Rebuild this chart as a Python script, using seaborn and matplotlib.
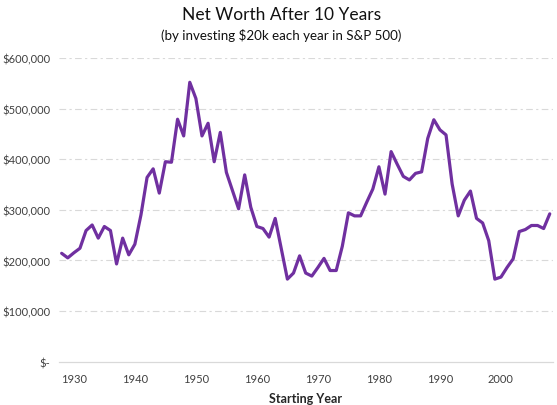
import matplotlib
matplotlib.use("Agg")
import matplotlib.pyplot as plt
import seaborn as sns
import pandas as pd
from matplotlib.ticker import FuncFormatter, FixedLocator

# ---- data ----
years = list(range(1928, 2009))
net_worth = [
    214, 205, 215, 224, 259, 270, 244, 267, 259, 193,   # 1928-1937
    244, 211, 232, 290, 364, 381, 333, 395, 394, 479,   # 1938-1947
    446, 552, 520, 446, 471, 395, 453, 374, 338, 302,   # 1948-1957
    369, 305, 267, 263, 246, 283, 223, 163, 175, 209,   # 1958-1967
    175, 169, 186, 204, 180, 180, 228, 294, 288, 288,   # 1968-1977
    315, 341, 385, 331, 415, 390, 366, 359, 372, 375,   # 1978-1987
    441, 478, 458, 448, 351, 288, 319, 337, 283, 274,   # 1988-1997
    239, 163, 167, 186, 203, 257, 261, 269, 269, 263,   # 1998-2007
    292,                                                # 2008
]
net_worth = [v * 1000 for v in net_worth]
x_ticks = [1930, 1940, 1950, 1960, 1970, 1980, 1990, 2000]
y_ticks = [0, 100000, 200000, 300000, 400000, 500000, 600000]

title = "Net Worth After 10 Years"
subtitle = "(by investing $20k each year in S&P 500)"
x_label = "Starting Year"

df = pd.DataFrame({"year": years, "net_worth": net_worth})

sns.set_style("white")
plt.rcParams["font.family"] = ["Lato", "DejaVu Sans"]

W, H = 557, 406
fig = plt.figure(figsize=(W / 100, H / 100), dpi=100)
ax = fig.add_axes([58.6 / W, 1 - 362.6 / H, (552.8 - 58.6) / W, (362.6 - 59) / H])

sns.lineplot(data=df, x="year", y="net_worth", ax=ax, color="#7030A0",
             linewidth=2.3, zorder=3)

ax.set_xlim(1927.5, 2008.5)
ax.set_ylim(0, 600000)
ax.xaxis.set_major_locator(FixedLocator(x_ticks))
ax.yaxis.set_major_locator(FixedLocator(y_ticks))
ax.yaxis.set_major_formatter(FuncFormatter(lambda v, p: "$-" if v == 0 else f"${v:,.0f}"))

for y in y_ticks[1:]:
    ax.axhline(y, color="#d9d9d9", linewidth=0.8, linestyle=(0, (6, 3, 2, 3)), zorder=1)

for s in ["top", "right", "left"]:
    ax.spines[s].set_visible(False)
ax.spines["bottom"].set_color("#d9d9d9")
ax.spines["bottom"].set_linewidth(0.9)

ax.tick_params(axis="both", length=0, labelsize=8, labelcolor="#404040")
ax.tick_params(axis="y", pad=6)
ax.tick_params(axis="x", pad=8)

ax.set_xlabel(x_label, fontsize=9, fontweight="bold", color="#262626", labelpad=6)
ax.set_ylabel("")

fig.text(0.505, 1 - 15 / H, title, ha="center", va="center", fontsize=12.5, color="#111111")
fig.text(0.505, 1 - 36 / H, subtitle, ha="center", va="center", fontsize=9.6, color="#111111")

fig.savefig("out.png", dpi=100)
